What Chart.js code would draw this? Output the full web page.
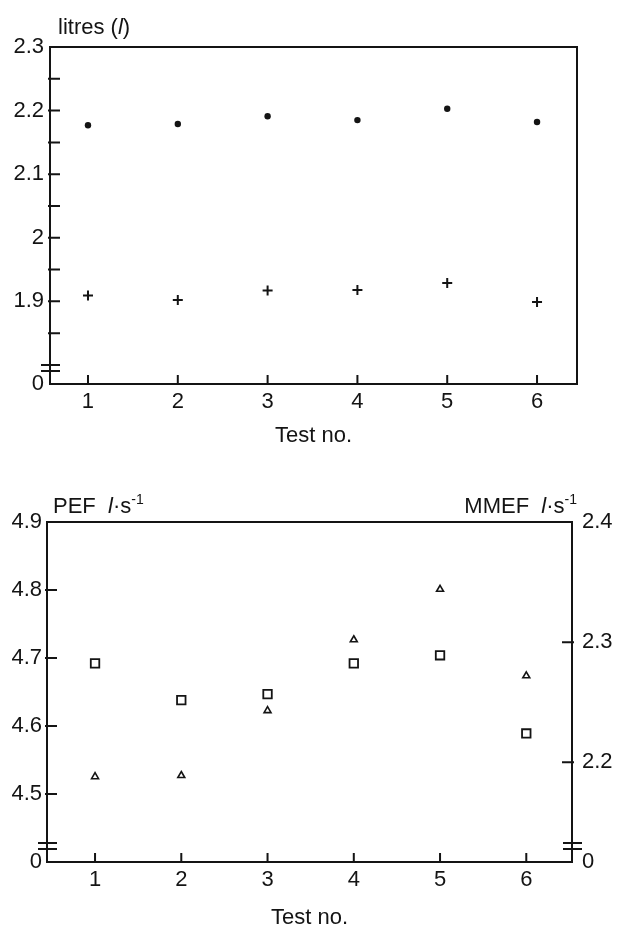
<!DOCTYPE html>
<html>
<head>
<meta charset="utf-8">
<title>Test no. – litres, PEF, MMEF</title>
<script src="https://cdn.jsdelivr.net/npm/chart.js@4.4.1/dist/chart.umd.min.js"></script>
<style>
  body { margin: 0; background: #fff; }
  canvas { position: absolute; left: 0; }
  #chartVolume { top: 0; }
  #chartFlow { top: 460px; }
</style>
</head>
<body>
<canvas id="chartVolume" width="621" height="460"></canvas>
<canvas id="chartFlow" width="621" height="471"></canvas>
<script>
const testNo = [1, 2, 3, 4, 5, 6];

// upper panel, litres
const volumeDots = [2.177, 2.179, 2.191, 2.185, 2.203, 2.182];
const volumeCrosses = [1.909, 1.902, 1.917, 1.918, 1.929, 1.899];
const volumeTicks = [2.3, 2.2, 2.1, 2, 1.9];
const volumeTickLabels = ['2.3', '2.2', '2.1', '2', '1.9'];
const volumeMinorTicks = [2.25, 2.15, 2.05, 1.95, 1.85];

// lower panel, PEF (left) and MMEF (right)
const pefSquares = [4.692, 4.638, 4.647, 4.692, 4.704, 4.589];
const mmefTriangles = [2.188, 2.189, 2.243, 2.302, 2.344, 2.272];
const pefTicks = [4.9, 4.8, 4.7, 4.6, 4.5];
const pefTickLabels = ['4.9', '4.8', '4.7', '4.6', '4.5'];
const mmefTicks = [2.4, 2.3, 2.2];
const mmefTickLabels = ['2.4', '2.3', '2.2'];

const INK = '#141414';
const FONT = '"Liberation Sans", Arial, Helvetica, sans-serif';

Chart.defaults.font.family = FONT;
Chart.defaults.font.size = 22;
Chart.defaults.color = INK;

function points(values) {
  return testNo.map((t, i) => ({ x: t, y: values[i] }));
}

// broken y axis: the lowest value is labelled 0
function brokenAxis(min, max, major, labels, minor, position, width, pad) {
  return {
    type: 'linear',
    position: position,
    min: min,
    max: max,
    grid: { display: false, drawTicks: false },
    border: { display: false },
    afterBuildTicks: s => {
      s.ticks = [min].concat(major, minor).sort((a, b) => a - b).map(v => ({ value: v }));
    },
    afterFit: s => { s.width = width; },
    ticks: {
      autoSkip: false,
      padding: pad,
      callback: v => {
        if (v === min) return '0';
        const i = major.indexOf(v);
        return i < 0 ? '' : labels[i];
      }
    }
  };
}

function testAxis(min, max, height, titlePad) {
  return {
    type: 'linear',
    min: min,
    max: max,
    grid: { display: false, drawTicks: false },
    border: { display: false },
    afterBuildTicks: s => { s.ticks = testNo.map(v => ({ value: v })); },
    afterFit: s => { s.height = height; },
    ticks: { autoSkip: false, padding: 5, callback: v => String(v) },
    title: { display: true, text: 'Test no.', padding: { top: 0, bottom: titlePad } }
  };
}

function drawRich(ctx, segs, x, y, align) {
  const fontFor = s => (s.italic ? 'italic ' : '') + (s.sup ? 14 : 22) + 'px ' + FONT;
  let total = 0;
  segs.forEach(s => { ctx.font = fontFor(s); total += ctx.measureText(s.text).width; });
  let cx = align === 'right' ? x - total : x;
  ctx.textAlign = 'left';
  ctx.textBaseline = 'alphabetic';
  segs.forEach(s => {
    ctx.font = fontFor(s);
    ctx.fillText(s.text, cx, s.sup ? y - 9 : y);
    cx += ctx.measureText(s.text).width;
  });
}

// box, inward ticks, axis breaks and unit headers
const frame = {
  id: 'frame',
  afterDatasetsDraw(chart, args, opts) {
    const ctx = chart.ctx;
    const a = chart.chartArea;
    ctx.save();
    ctx.strokeStyle = INK;
    ctx.fillStyle = INK;
    ctx.lineWidth = 2;
    ctx.strokeRect(a.left, a.top, a.right - a.left, a.bottom - a.top);
    Object.values(chart.scales).forEach(s => {
      ctx.beginPath();
      s.ticks.forEach(t => {
        if (t.value === s.min || t.value === s.max) return;
        const p = s.getPixelForValue(t.value);
        if (s.axis === 'x') {
          ctx.moveTo(p, a.bottom);
          ctx.lineTo(p, a.bottom - 9);
        } else {
          const x0 = s.position === 'left' ? a.left : a.right;
          const d = s.position === 'left' ? 1 : -1;
          ctx.moveTo(x0 - 2 * d, p);
          ctx.lineTo(x0 + 10 * d, p);
        }
      });
      if (s.axis === 'y') {
        const x0 = s.position === 'left' ? a.left : a.right;
        [-19, -13].forEach(dy => {
          ctx.moveTo(x0 - 9, a.bottom + dy);
          ctx.lineTo(x0 + 10, a.bottom + dy);
        });
      }
      ctx.stroke();
    });
    if (opts.left) drawRich(ctx, opts.left, a.left + opts.dx, a.top - opts.dy, 'left');
    if (opts.right) drawRich(ctx, opts.right, a.right + 5, a.top - opts.dy, 'right');
    ctx.restore();
  }
};

const flowUnit = [{ text: 'l', italic: true }, { text: '·s' }, { text: '-1', sup: true }];

new Chart(document.getElementById('chartVolume'), {
  type: 'scatter',
  data: {
    datasets: [{
      label: 'litres (dots)',
      data: points(volumeDots),
      pointStyle: 'circle',
      pointRadius: 3.2,
      backgroundColor: INK,
      borderWidth: 0
    }, {
      label: 'litres (crosses)',
      data: points(volumeCrosses),
      pointStyle: 'cross',
      pointRadius: 5,
      borderColor: INK,
      borderWidth: 2
    }]
  },
  plugins: [frame],
  options: {
    responsive: false,
    animation: false,
    layout: { padding: { top: 47, right: 44, bottom: 0, left: 0 } },
    plugins: {
      legend: { display: false },
      tooltip: { enabled: false },
      frame: { left: [{ text: 'litres (' }, { text: 'l', italic: true }, { text: ')' }], dx: 8, dy: 13 }
    },
    scales: {
      x: testAxis(0.577, 6.445, 76, 11),
      y: brokenAxis(1.77, 2.3, volumeTicks, volumeTickLabels, volumeMinorTicks, 'left', 50, 6)
    }
  }
});

new Chart(document.getElementById('chartFlow'), {
  type: 'scatter',
  data: {
    datasets: [{
      label: 'PEF',
      data: points(pefSquares),
      yAxisID: 'y',
      pointStyle: 'rect',
      pointRadius: 6,
      backgroundColor: 'rgba(0,0,0,0)',
      borderColor: INK,
      borderWidth: 1.8
    }, {
      label: 'MMEF',
      data: points(mmefTriangles),
      yAxisID: 'y2',
      pointStyle: 'triangle',
      pointRadius: 4,
      backgroundColor: 'rgba(0,0,0,0)',
      borderColor: INK,
      borderWidth: 1.6
    }]
  },
  plugins: [frame],
  options: {
    responsive: false,
    animation: false,
    layout: { padding: { top: 62, right: 0, bottom: 0, left: 0 } },
    plugins: {
      legend: { display: false },
      tooltip: { enabled: false },
      frame: {
        left: [{ text: 'PEF  ' }].concat(flowUnit),
        right: [{ text: 'MMEF  ' }].concat(flowUnit),
        dx: 6, dy: 9
      }
    },
    scales: {
      x: testAxis(0.443, 6.53, 69, 0),
      y: brokenAxis(4.4, 4.9, pefTicks, pefTickLabels, [], 'left', 47, 5),
      y2: brokenAxis(2.117, 2.4, mmefTicks, mmefTickLabels, [], 'right', 49, 10)
    }
  }
});
</script>
</body>
</html>
